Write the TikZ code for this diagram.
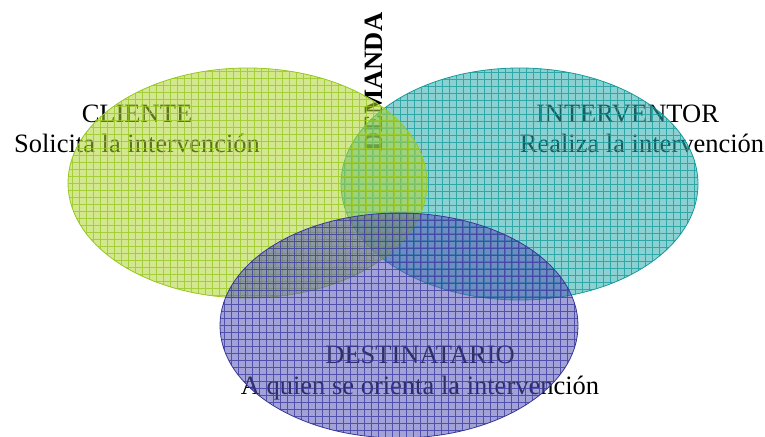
\documentclass[tikz,border=0pt]{standalone}
\usepackage{fontspec}
\setmainfont{Liberation Serif}
\usetikzlibrary{shapes.geometric}

\definecolor{clienteline}{RGB}{150,200,30}
\definecolor{clientefill}{RGB}{175,212,50}
\definecolor{intervline}{RGB}{20,155,155}
\definecolor{intervfill}{RGB}{45,172,172}
\definecolor{destline}{RGB}{55,55,155}
\definecolor{destfill}{RGB}{85,85,185}

\tikzset{
  conjunto/.style 2 args={ellipse, inner sep=0pt, draw=#1, line width=0.8pt,
    fill=#2, fill opacity=0.55,
    path picture={\draw[#1, line width=0.5pt, opacity=0.75, step=7pt]
      (path picture bounding box.south west) grid (path picture bounding box.north east);}},
  rotulo/.style={anchor=base, inner sep=0pt, font=\fontsize{26.5}{30}\selectfont}
}

\begin{document}
\begin{tikzpicture}[x=1pt, y=-1pt]
  \useasboundingbox (0,0) rectangle (765,436);

  % textos (debajo de los conjuntos)
  \node[rotulo] (clienteT) at (137,122) {CLIENTE};
  \node[rotulo] (clienteS) at (137,152) {Solicita la intervención};
  \node[rotulo] (intervT) at (627.5,122) {INTERVENTOR};
  \node[rotulo] (intervS) at (642,152) {Realiza la intervención};
  \node[rotulo] (destT) at (420,363) {DESTINATARIO};
  \node[rotulo] (destS) at (420,394) {A quien se orienta la intervención};
  \node[rotulo, rotate=90, font=\fontsize{26.5}{30}\selectfont\bfseries] (demanda) at (382,82) {DEMANDA};

  % conjuntos
  \node[conjunto={intervline}{intervfill}, minimum width=357pt, minimum height=232pt] (interventor) at (519.5,184) {};
  \node[conjunto={clienteline}{clientefill}, minimum width=359pt, minimum height=230pt] (cliente) at (247.5,183) {};
  \node[conjunto={destline}{destfill}, minimum width=358pt, minimum height=225pt] (destinatario) at (399,325.5) {};
\end{tikzpicture}
\end{document}
